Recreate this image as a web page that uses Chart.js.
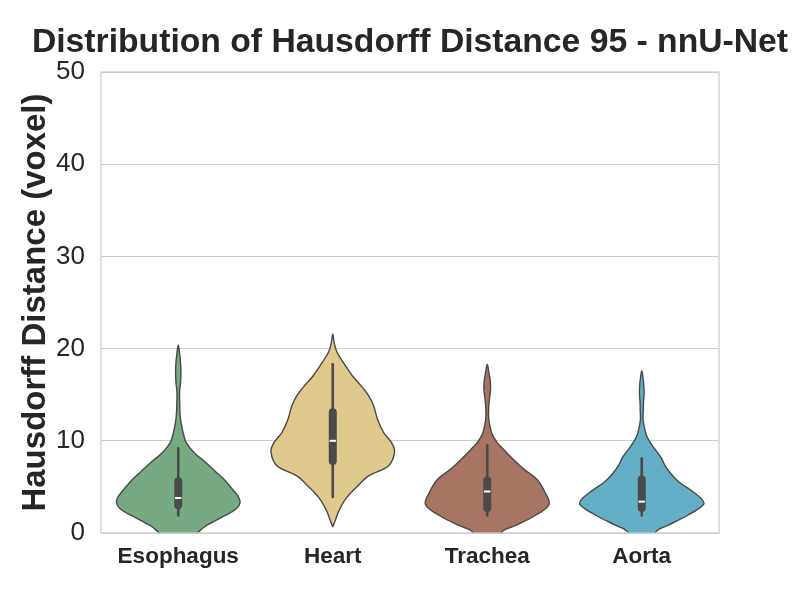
<!DOCTYPE html>
<html>
<head>
<meta charset="utf-8">
<script src="https://cdn.jsdelivr.net/npm/chart.js@4"></script>
<style>
  html, body { margin: 0; padding: 0; background: #ffffff; }
  #wrap { width: 800px; height: 600px; }
</style>
</head>
<body>
<div id="wrap"><canvas id="c" width="800" height="600"></canvas></div>
<script>
// ---------------- data ----------------
const categories = ['Esophagus', 'Heart', 'Trachea', 'Aorta'];
const yTicks = [0, 10, 20, 30, 40, 50];

// Kernel-density profile of each violin: value levels and relative density there
const esophagusLevels  = [-2.5, -1.5, -0.5, 0.1, 0.8, 1.9, 2.6, 3.3, 4.0, 4.8, 5.8, 6.7, 7.7, 8.7, 9.8, 10.6, 11.3, 12.2, 13.1, 14.2, 15.3, 16.3, 17.4, 18.5, 19.5, 20.4];
const esophagusDensity = [1, 6, 14, 20, 28, 47, 58, 62, 60, 54, 46, 37, 27, 16, 8, 5.5, 4, 2.5, 1.7, 1.4, 1.3, 2.3, 2.7, 2.3, 1.3, 0];

const heartLevels  = [0.65, 1.5, 2.3, 3.7, 5.1, 6.2, 7.3, 8.8, 9.8, 10.9, 12.3, 13.8, 14.9, 15.9, 17.0, 18.1, 19.6, 20.6, 21.6];
const heartDensity = [0, 3, 5.7, 13, 25, 36, 56, 62, 59, 51, 45, 41, 36, 29, 20, 13, 4.3, 1.5, 0];

const tracheaLevels  = [-2.5, -1.5, -0.5, 0.25, 0.8, 1.9, 3.1, 4.4, 5.8, 6.9, 8.0, 9.1, 9.8, 10.7, 11.3, 12.0, 12.7, 13.5, 14.3, 15.6, 16.5, 17.4, 18.3];
const tracheaDensity = [1, 6, 12, 16, 28, 48, 62, 58, 50, 37, 26, 16, 10, 5, 3.3, 2, 1.3, 1.4, 2, 3.3, 3, 1.7, 0];

const aortaLevels  = [-2.5, -1.5, -0.5, 0.25, 0.8, 1.9, 3.1, 3.7, 4.6, 5.5, 6.4, 7.3, 8.2, 9.1, 9.8, 10.5, 11.4, 12.3, 13.3, 14.2, 15.2, 16.0, 16.8, 17.6];
const aortaDensity = [1, 5, 11, 15, 25, 45, 61, 59, 49, 37, 29, 23, 19, 13, 8.5, 5, 2.7, 1.3, 1.5, 1.7, 2.3, 2, 1.3, 0];

// Inner box statistics
const whiskerLow  = [1.9, 3.9, 1.9, 1.9];
const quartile1   = [3.0, 7.8, 2.7, 2.7];
const medians     = [3.8, 10.0, 4.5, 3.4];
const quartile3   = [5.6, 13.1, 5.7, 5.8];
const whiskerHigh = [9.2, 18.3, 9.5, 8.1];

// ---------------- styling ----------------
const violinColors = ['#76AB82', '#E0C98D', '#A87565', '#62AFC6'];
const edgeColor = '#484848';
const boxColor = '#4a4a4a';
const textColor = '#262626';
const gridColor = '#cccccc';
const FONT = "'Liberation Sans', Arial, Helvetica, sans-serif";

const profiles = [
  [esophagusLevels, esophagusDensity],
  [heartLevels, heartDensity],
  [tracheaLevels, tracheaDensity],
  [aortaLevels, aortaDensity]
];
const halfWidth = 0.4; // seaborn width 0.8, scale="width"

const datasets = [];
profiles.forEach(([levels, dens], i) => {
  const maxD = Math.max(...dens);
  const right = levels.map((v, k) => ({ x: i + halfWidth * dens[k] / maxD, y: v }));
  const left = levels.map((v, k) => ({ x: i - halfWidth * dens[k] / maxD, y: v })).reverse();
  datasets.push({
    label: categories[i],
    data: right.concat(left.slice(1)),
    showLine: true,
    fill: 'shape',
    backgroundColor: violinColors[i],
    borderColor: edgeColor,
    borderWidth: 1.4,
    pointRadius: 0,
    tension: 0.35,
    order: 3
  });
});
categories.forEach((c, i) => {
  datasets.push({
    label: c + ' whisker',
    data: [{ x: i, y: whiskerLow[i] }, { x: i, y: whiskerHigh[i] }],
    showLine: true, borderColor: boxColor, borderWidth: 2.6, borderCapStyle: 'round',
    pointRadius: 0, order: 2
  });
  datasets.push({
    label: c + ' box',
    data: [{ x: i, y: quartile1[i] }, { x: i, y: quartile3[i] }],
    showLine: true, borderColor: boxColor, borderWidth: 8, borderCapStyle: 'round',
    pointRadius: 0, order: 1
  });
  datasets.push({
    label: c + ' median',
    data: [{ x: i, y: medians[i] }],
    showLine: false, pointStyle: 'line', pointRadius: 3.2,
    pointBorderColor: '#ffffff', pointBorderWidth: 2, order: 0
  });
});

const framePlugin = {
  id: 'frame',
  afterDraw(chart) {
    const a = chart.chartArea, ctx = chart.ctx;
    ctx.save();
    ctx.strokeStyle = gridColor;
    ctx.lineWidth = 1.25;
    ctx.strokeRect(a.left, a.top, a.right - a.left, a.bottom - a.top);
    ctx.restore();
  }
};

new Chart(document.getElementById('c'), {
  type: 'scatter',
  data: { datasets },
  plugins: [framePlugin],
  options: {
    responsive: false,
    animation: false,
    layout: { padding: { left: 20, right: 0, top: 0, bottom: 0 } },
    plugins: {
      legend: { display: false },
      tooltip: { enabled: false },
      title: {
        display: true,
        text: 'Distribution of Hausdorff Distance 95 - nnU-Net',
        color: textColor,
        fullSize: true,
        font: { family: FONT, size: 33.7, weight: 'bold', lineHeight: 1.2 },
        padding: { top: 22, bottom: 9.6 }
      }
    },
    scales: {
      x: {
        type: 'linear',
        min: -0.5, max: 3.5,
        afterBuildTicks(scale) { scale.ticks = categories.map((c, i) => ({ value: i })); },
        afterFit(scale) { scale.height = 67; },
        ticks: {
          callback: (v) => categories[v],
          color: textColor,
          font: { family: FONT, size: 22.5, weight: 'bold' },
          padding: 10,
          maxRotation: 0
        },
        grid: { display: false, drawTicks: false },
        border: { display: false }
      },
      y: {
        type: 'linear',
        min: 0, max: 50,
        afterBuildTicks(scale) { scale.ticks = yTicks.map(v => ({ value: v })); },
        afterFit(scale) { scale.width = 81; },
        ticks: {
          color: textColor,
          font: { family: FONT, size: 26 },
          padding: 16
        },
        grid: { color: gridColor, lineWidth: 1, drawTicks: false },
        border: { display: false },
        title: {
          display: true,
          text: 'Hausdorff Distance (voxel)',
          color: textColor,
          font: { family: FONT, size: 33, weight: 'bold', lineHeight: 1 },
          padding: { top: -1, bottom: 0 }
        }
      },
      yRight: {
        type: 'linear',
        position: 'right',
        min: 0, max: 50,
        afterFit(scale) { scale.width = 81; },
        ticks: { display: false },
        grid: { display: false, drawTicks: false },
        border: { display: false }
      }
    }
  }
});
</script>
</body>
</html>
